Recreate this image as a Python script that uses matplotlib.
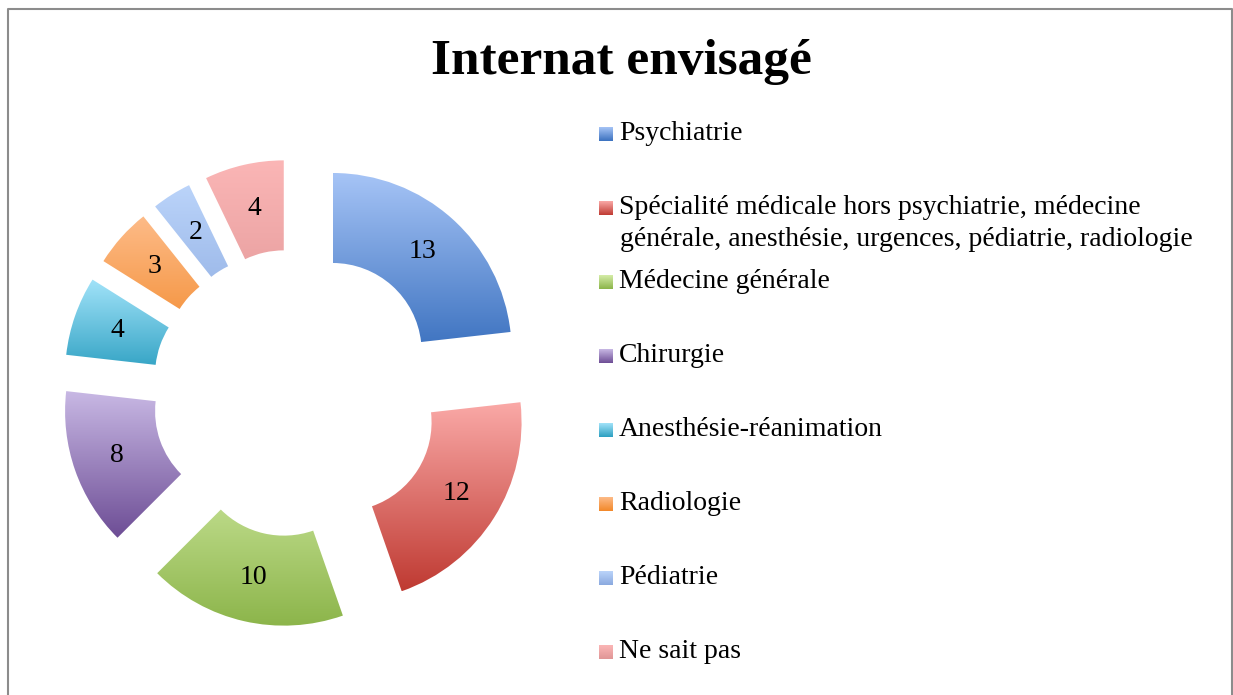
import numpy as np
import matplotlib.pyplot as plt
from matplotlib.colors import to_rgb
from matplotlib.patches import Rectangle

# Chart data
labels = ["Psychiatrie",
          "Spécialité médicale hors psychiatrie, médecine\ngénérale, anesthésie, urgences, pédiatrie, radiologie",
          "Médecine générale",
          "Chirurgie",
          "Anesthésie-réanimation",
          "Radiologie",
          "Pédiatrie",
          "Ne sait pas"]
values = [13, 12, 10, 8, 4, 3, 2, 4]
# gradient colours (top, bottom) for each slice
top_colors = ["#A6C4F6", "#FAA9A7", "#D5EDA8", "#C8B8E4", "#A2E3F9", "#FDBB88", "#BBD4FA", "#FBB6B6"]
bottom_colors = ["#3B71BF", "#BF3A32", "#8BB449", "#6D4D95", "#2C9FC1", "#F28829", "#8AA9DF", "#E09696"]

W, H = 1233, 695
fig = plt.figure(figsize=(W / 100, H / 100), dpi=100)
ax = fig.add_axes([0, 0, 1, 1])

total = sum(values)
wedges, texts, autotexts = ax.pie(
    values, center=(296, H - 393), radius=179, explode=[55] * len(values),
    startangle=90, counterclock=False, wedgeprops=dict(width=90),
    autopct=lambda p: f"{round(p * total / 100)}", pctdistance=0.75,
    textprops=dict(family="Liberation Serif", fontsize=20, color="black"))


def gradient_fill(patch, c_top, c_bottom):
    verts = patch.get_path().vertices
    if not isinstance(patch, type(wedges[0])):
        verts = patch.get_patch_transform().transform(verts)
    x0, y0 = verts.min(axis=0)
    x1, y1 = verts.max(axis=0)
    t = np.linspace(0, 1, 256)[:, None, None]
    grad = (1 - t) * np.array(to_rgb(c_top)) + t * np.array(to_rgb(c_bottom))
    im = ax.imshow(grad, extent=(x0, x1, y0, y1), origin="upper",
                   aspect="auto", interpolation="bilinear", zorder=patch.get_zorder())
    im.set_clip_path(patch)
    patch.set_facecolor("none")
    patch.set_edgecolor("none")


for w, ct, cb in zip(wedges, top_colors, bottom_colors):
    gradient_fill(w, ct, cb)
for t in autotexts:
    t.set_zorder(5)

# Title
ax.text(621, H - 62, "Internat envisagé", ha="center", va="center",
        family="Liberation Serif", fontweight="bold", fontsize=37)

# Legend, drawn by hand to follow the reference spacing
for i, (lab, ct, cb) in enumerate(zip(labels, top_colors, bottom_colors)):
    y = H - (134 + 74 * i)
    sq = Rectangle((599, y - 7), 14, 14, zorder=3)
    ax.add_patch(sq)
    gradient_fill(sq, ct, cb)
    for j, line in enumerate(lab.split("\n")):
        ax.text(619 + j, y - 31 * j, line, ha="left", va="center",
                family="Liberation Serif", fontsize=20)

# Outer frame
ax.plot([8, 8, 1232, 1232], [0, H - 9, H - 9, 0], color="#8C8C8C", lw=1.5)

ax.set_xlim(0, W)
ax.set_ylim(0, H)
ax.set_aspect("auto")
ax.axis("off")
fig.savefig("out.png", dpi=100)
